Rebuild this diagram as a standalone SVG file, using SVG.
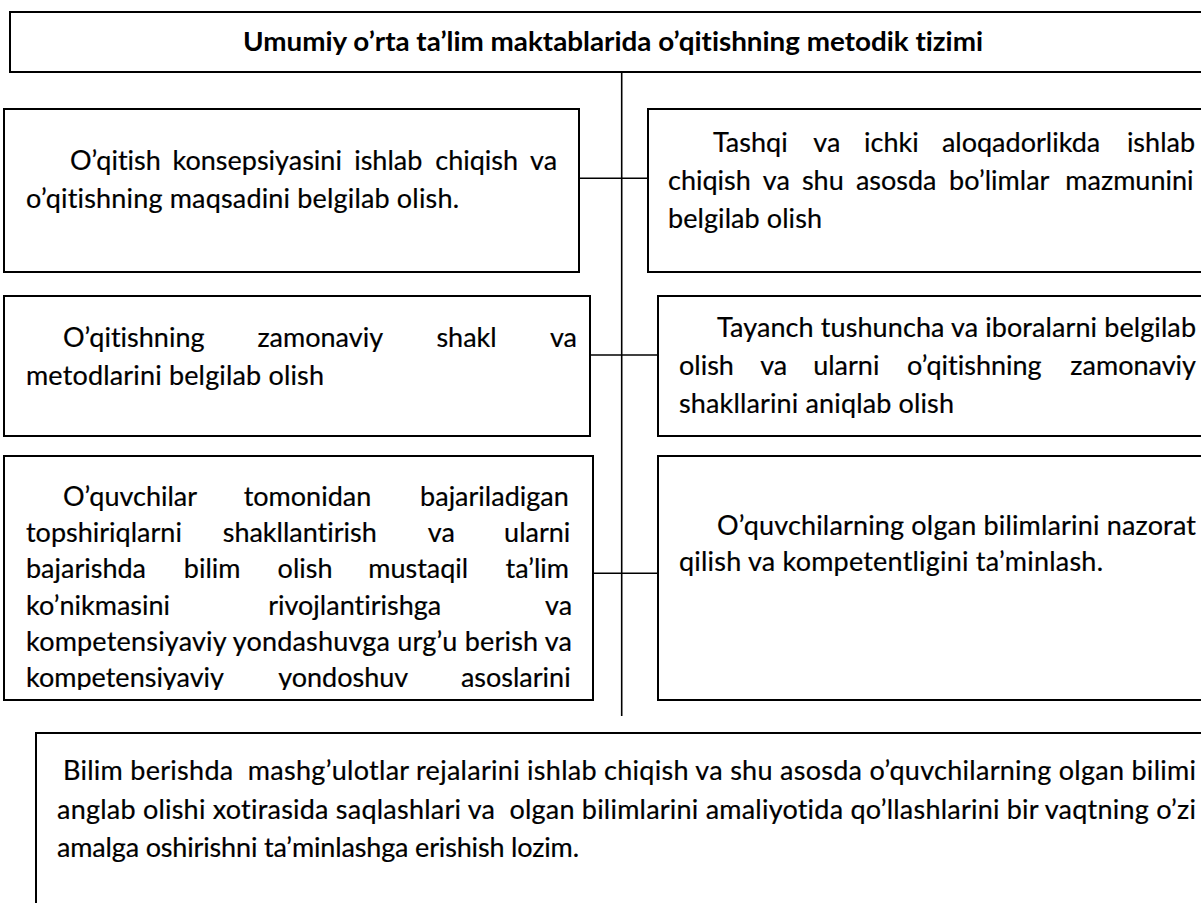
<svg xmlns="http://www.w3.org/2000/svg" width="1201" height="903" viewBox="0 0 1201 903">
<style>
.box{fill:#fff;stroke:#000;stroke-width:2}
.ln{stroke:#000;stroke-width:1.6;fill:none}
.t{font-family:Lato,"Open Sans","Liberation Sans",sans-serif;font-size:27px;fill:#000;stroke:#000;stroke-width:0.2;font-variant-ligatures:none}
.title{font-family:Lato,"Open Sans","Liberation Sans",sans-serif;font-size:27px;font-weight:bold;fill:#000;font-variant-ligatures:none}
</style>
<defs>
<clipPath id="clipL3"><rect x="0" y="456" width="600" height="234"/></clipPath>
</defs>
<rect width="1201" height="903" fill="#fff"/>

<g id="connectors">
<line class="ln" x1="621.7" y1="72" x2="621.7" y2="716"/>
<line class="ln" x1="579" y1="178.3" x2="648" y2="178.3"/>
<line class="ln" x1="590" y1="355" x2="658" y2="355"/>
<line class="ln" x1="593" y1="573.3" x2="661" y2="573.3"/>
</g>

<g id="title">
<rect class="box" x="10" y="12" width="1225" height="60"/>
<text class="title" x="243" y="51" textLength="740" lengthAdjust="spacingAndGlyphs">Umumiy o’rta ta’lim maktablarida o’qitishning metodik tizimi</text>
</g>

<g id="box-l1">
<rect class="box" x="4" y="109" width="575" height="163"/>
<text class="t" y="170"><tspan x="70">O’qitish</tspan><tspan x="172.5">konsepsiyasini</tspan><tspan x="354.2">ishlab</tspan><tspan x="435.3">chiqish</tspan><tspan x="530">va</tspan></text>
<text class="t" x="26" y="208" textLength="433" lengthAdjust="spacing">o’qitishning maqsadini belgilab olish.</text>
</g>

<g id="box-r1">
<rect class="box" x="648" y="109" width="590" height="163"/>
<text class="t" y="152"><tspan x="713">Tashqi</tspan><tspan x="813.3">va</tspan><tspan x="864.1">ichki</tspan><tspan x="941.9">aloqadorlikda</tspan><tspan x="1126.9">ishlab</tspan></text>
<text class="t" y="190"><tspan x="668">chiqish</tspan><tspan x="762.8">va</tspan><tspan x="801.9">shu</tspan><tspan x="855.9">asosda</tspan><tspan x="949.1">bo’limlar</tspan><tspan x="1065.3">mazmunini</tspan></text>
<text class="t" x="668" y="228" textLength="154" lengthAdjust="spacing">belgilab olish</text>
</g>

<g id="box-l2">
<rect class="box" x="4" y="296" width="586" height="140"/>
<text class="t" y="347"><tspan x="63">O’qitishning</tspan><tspan x="257.4">zamonaviy</tspan><tspan x="436.4">shakl</tspan><tspan x="549.9">va</tspan></text>
<text class="t" x="26" y="385" textLength="298" lengthAdjust="spacing">metodlarini belgilab olish</text>
</g>

<g id="box-r2">
<rect class="box" x="658" y="296" width="580" height="140"/>
<text class="t" x="717" y="337" textLength="479" lengthAdjust="spacing">Tayanch tushuncha va iboralarni belgilab</text>
<text class="t" y="375"><tspan x="679">olish</tspan><tspan x="760.2">va</tspan><tspan x="813.2">ularni</tspan><tspan x="907">o’qitishning</tspan><tspan x="1070.3">zamonaviy</tspan></text>
<text class="t" x="679" y="413" textLength="275" lengthAdjust="spacing">shakllarini aniqlab olish</text>
</g>

<g id="box-l3">
<rect class="box" x="4" y="456" width="589" height="244"/>
<g clip-path="url(#clipL3)">
<text class="t" y="506"><tspan x="63">O’quvchilar</tspan><tspan x="243.7">tomonidan</tspan><tspan x="420.1">bajariladigan</tspan></text>
<text class="t" y="542"><tspan x="26">topshiriqlarni</tspan><tspan x="222.7">shakllantirish</tspan><tspan x="427.8">va</tspan><tspan x="504.1">ularni</tspan></text>
<text class="t" y="578"><tspan x="26">bajarishda</tspan><tspan x="183.8">bilim</tspan><tspan x="277.6">olish</tspan><tspan x="368.2">mustaqil</tspan><tspan x="505.5">ta’lim</tspan></text>
<text class="t" y="615"><tspan x="26">ko’nikmasini</tspan><tspan x="268.2">rivojlantirishga</tspan><tspan x="545">va</tspan></text>
<text class="t" x="26" y="651" textLength="546" lengthAdjust="spacing">kompetensiyaviy yondashuvga urg’u berish va</text>
<text class="t" y="687"><tspan x="26">kompetensiyaviy</tspan><tspan x="278.2">yondoshuv</tspan><tspan x="460.9">asoslarini</tspan></text>
</g>
</g>

<g id="box-r3">
<rect class="box" x="658" y="456" width="580" height="244"/>
<text class="t" x="717" y="535" textLength="479" lengthAdjust="spacing">O’quvchilarning olgan bilimlarini nazorat</text>
<text class="t" x="679" y="571" textLength="424" lengthAdjust="spacing">qilish va kompetentligini ta’minlash.</text>
</g>

<g id="box-bottom">
<rect class="box" x="36" y="733" width="1200" height="200"/>
<text class="t" x="63" y="780" textLength="1133" lengthAdjust="spacing" xml:space="preserve">Bilim berishda  mashg’ulotlar rejalarini ishlab chiqish va shu asosda o’quvchilarning olgan bilimi</text>
<text class="t" x="57" y="819" textLength="1139" lengthAdjust="spacing" xml:space="preserve">anglab olishi xotirasida saqlashlari va  olgan bilimlarini amaliyotida qo’llashlarini bir vaqtning o’zi</text>
<text class="t" x="57" y="857" textLength="522" lengthAdjust="spacing">amalga oshirishni ta’minlashga erishish lozim.</text>
</g>
</svg>
